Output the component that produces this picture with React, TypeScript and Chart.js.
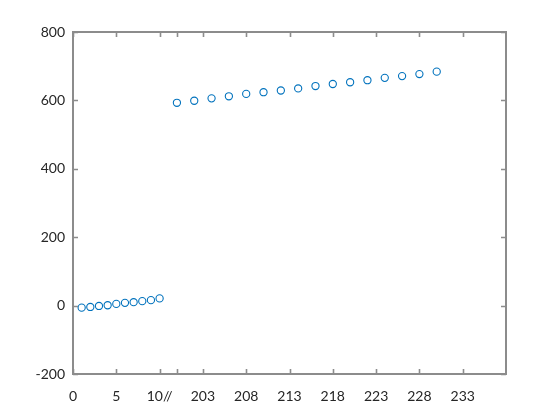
import React, { useEffect, useRef } from "react";
import { Chart, registerables } from "chart.js";

Chart.register(...registerables);

// Data (actual x values; the x axis is broken between 10 and 200)
const xLow = [1, 2, 3, 4, 5, 6, 7, 8, 9, 10];
const yLow = [-6, -4, -1, 1, 5, 8, 10, 13, 16, 21];
const xHigh = [200, 202, 204, 206, 208, 210, 212, 214, 216, 218, 220, 222, 224, 226, 228, 230];
const yHigh = [593, 599, 606, 612, 619, 624, 629, 635, 642, 648, 653, 659, 666, 671, 677, 684];

const xTickValues = [0, 5, 10, 200, 203, 208, 213, 218, 223, 228, 233];
const xTickLabels = ["0", "5", "10//", "", "203", "208", "213", "218", "223", "228", "233"];
const yTickValues = [-200, 0, 200, 400, 600, 800];

const BREAK_LOW = 10;
const BREAK_OFFSET = 188; // 200 -> 12 on the compressed axis

const toAxis = (x: number) => (x <= BREAK_LOW ? x : x - BREAK_OFFSET);

const AXIS_COLOR = "#8c8c8c";
const TEXT_COLOR = "#262626";
const FONT = "Lato, 'Open Sans', sans-serif";

const boxPlugin = {
  id: "matlabBox",
  afterDatasetsDraw(chart: any) {
    const { ctx, chartArea } = chart;
    const { left, right, top, bottom } = chartArea;
    const xs = chart.scales.x;
    const ys = chart.scales.y;
    const tl = 5;
    ctx.save();
    ctx.strokeStyle = AXIS_COLOR;
    ctx.lineWidth = 1.6;
    ctx.beginPath();
    xTickValues.forEach((v) => {
      const px = Math.round(xs.getPixelForValue(toAxis(v))) + 0.5;
      ctx.moveTo(px, bottom);
      ctx.lineTo(px, bottom - tl);
      ctx.moveTo(px, top);
      ctx.lineTo(px, top + tl);
    });
    yTickValues.forEach((v) => {
      const py = Math.round(ys.getPixelForValue(v)) + 0.5;
      ctx.moveTo(left, py);
      ctx.lineTo(left + tl, py);
      ctx.moveTo(right, py);
      ctx.lineTo(right - tl, py);
    });
    ctx.stroke();
    ctx.lineWidth = 2;
    ctx.strokeRect(left, top, right - left, bottom - top);
    ctx.restore();
  },
};

export default function App() {
  const ref = useRef<HTMLCanvasElement | null>(null);

  useEffect(() => {
    if (!ref.current) return;
    const pts = [
      ...xLow.map((x, i) => ({ x: toAxis(x), y: yLow[i] })),
      ...xHigh.map((x, i) => ({ x: toAxis(x), y: yHigh[i] })),
    ];
    const chart = new Chart(ref.current, {
      type: "scatter",
      data: {
        datasets: [
          {
            data: pts,
            borderColor: "#0072BD",
            backgroundColor: "rgba(0,0,0,0)",
            pointRadius: 3.6,
            pointBorderWidth: 1.1,
            pointStyle: "circle",
          },
        ],
      },
      options: {
        responsive: false,
        animation: false,
        devicePixelRatio: 1,
        layout: { padding: { left: 0, top: 32, right: 54, bottom: 0 } },
        plugins: {
          legend: { display: false },
          tooltip: { enabled: false },
        },
        scales: {
          x: {
            type: "linear",
            min: 0,
            max: 50,
            grid: { display: false, drawTicks: false },
            border: { display: false },
            afterBuildTicks: (scale: any) => {
              scale.ticks = xTickValues.map((v) => ({ value: toAxis(v) }));
            },
            afterFit: (scale: any) => {
              scale.height = 46;
            },
            ticks: {
              autoSkip: false,
              maxRotation: 0,
              padding: 14,
              color: TEXT_COLOR,
              font: { family: FONT, size: 14 },
              callback: (value: any) => {
                const idx = xTickValues.findIndex((v) => toAxis(v) === value);
                return idx >= 0 ? xTickLabels[idx] : "";
              },
            },
          },
          y: {
            type: "linear",
            min: -200,
            max: 800,
            grid: { display: false, drawTicks: false },
            border: { display: false },
            afterBuildTicks: (scale: any) => {
              scale.ticks = yTickValues.map((v) => ({ value: v }));
            },
            afterFit: (scale: any) => {
              scale.width = 73;
            },
            ticks: {
              padding: 8,
              color: TEXT_COLOR,
              font: { family: FONT, size: 14 },
              callback: (value: any) => String(value),
            },
          },
        },
      },
      plugins: [boxPlugin],
    });
    return () => chart.destroy();
  }, []);

  return (
    <canvas
      ref={ref}
      width={560}
      height={420}
      style={{ position: "fixed", left: 0, top: 0, width: 560, height: 420, background: "#fff" }}
    />
  );
}
